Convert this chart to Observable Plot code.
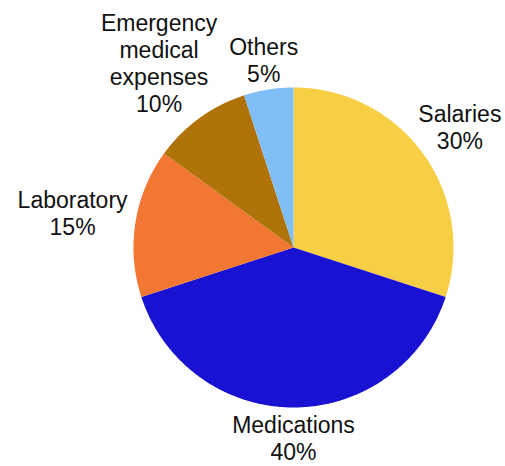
<!DOCTYPE html>
<html>
<head>
<meta charset="utf-8">
<script src="https://cdn.jsdelivr.net/npm/d3@7"></script>
<script src="https://cdn.jsdelivr.net/npm/@observablehq/plot@0.6"></script>
<style>
  html, body { margin: 0; padding: 0; background: #fff; }
  #chart svg { display: block; }
</style>
</head>
<body>
<div id="chart"></div>
<script>
// ---- data ----
const categories = ["Salaries", "Medications", "Laboratory", "Emergency\nmedical\nexpenses", "Others"];
const values = [30, 40, 15, 10, 5];
const colors = ["#F7CF45", "#1A12D2", "#F27733", "#B07309", "#80BEF7"];

// ---- layout ----
const W = 505, H = 466;
const cx = 293, cy = 247, R = 160;
const fontSize = 23, lineH = 27;
const pad = 8;

const total = d3.sum(values);
const pie = d3.pie().sort(null).value(d => d.value);
const arcs = pie(categories.map((name, i) => ({name, value: values[i]})));

// slice polygons in unit coordinates (radius 1), angle 0 at top, clockwise
const slicePts = [];
for (const a of arcs) {
  const n = Math.max(2, Math.ceil((a.endAngle - a.startAngle) / (Math.PI / 360)));
  slicePts.push({name: a.data.name, x: 0, y: 0});
  for (let k = 0; k <= n; k++) {
    const t = a.startAngle + (a.endAngle - a.startAngle) * k / n;
    slicePts.push({name: a.data.name, x: Math.sin(t), y: Math.cos(t)});
  }
  slicePts.push({name: a.data.name, x: 0, y: 0});
}

// labels placed outside at mid angle, box pushed out by its extent
const labels = arcs.map(a => {
  const text = a.data.name + "\n" + Math.round(a.data.value / total * 100) + "%";
  const lines = text.split("\n");
  const ctx = document.createElement("canvas").getContext("2d");
  ctx.font = `${fontSize}px "Liberation Sans", Arial, sans-serif`;
  const w = d3.max(lines, l => ctx.measureText(l).width);
  const h = lines.length * lineH - (lineH - fontSize * 0.75);
  const m = (a.startAngle + a.endAngle) / 2;
  const sx = Math.sin(m), sy = Math.cos(m);
  const t = Math.min(Math.abs(sx) > 1e-6 ? (w / 2) / Math.abs(sx) : Infinity,
                     Math.abs(sy) > 1e-6 ? (h / 2) / Math.abs(sy) : Infinity);
  const d = (R + pad + t) / R;
  return {text, x: sx * d, y: sy * d};
});

const chart = Plot.plot({
  width: W,
  height: H,
  margin: 0,
  x: {domain: [-cx / R, (W - cx) / R], range: [0, W], axis: null},
  y: {domain: [-(H - cy) / R, cy / R], range: [H, 0], axis: null},
  color: {domain: categories, range: colors},
  style: {fontFamily: '"Liberation Sans", Arial, sans-serif', background: "#fff"},
  marks: [
    Plot.line(slicePts, {x: "x", y: "y", z: "name", fill: "name", stroke: "none", curve: "linear"}),
    Plot.text(labels, {
      x: "x", y: "y", text: "text",
      textAnchor: "middle", lineAnchor: "middle",
      fontSize: fontSize, lineHeight: lineH / fontSize,
      fill: "#111"
    })
  ]
});
document.getElementById("chart").appendChild(chart);
</script>
</body>
</html>
